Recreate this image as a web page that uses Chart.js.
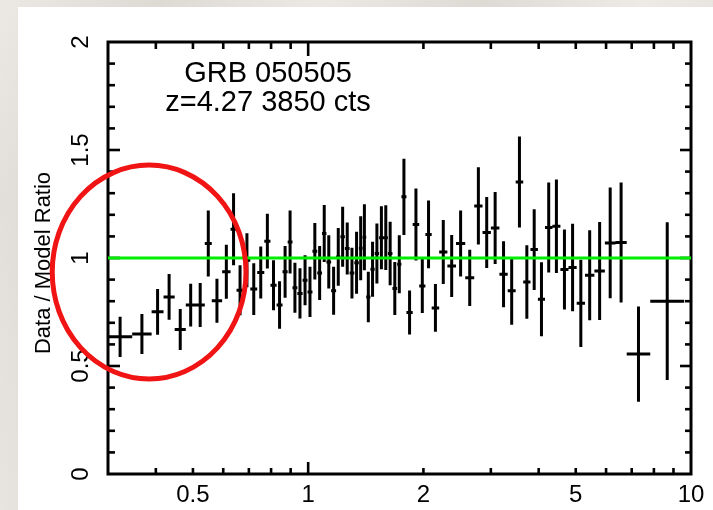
<!DOCTYPE html>
<html>
<head>
<meta charset="utf-8">
<script src="https://cdn.jsdelivr.net/npm/chart.js@4/dist/chart.umd.min.js"></script>
<style>
  html, body { margin: 0; padding: 0; }
  body {
    width: 713px; height: 510px; overflow: hidden; position: relative;
    background-color: #e3ded7;
    background-image:
      linear-gradient(100deg, rgba(255,255,255,0.3) 0%, rgba(0,0,0,0.03) 20%, rgba(255,255,255,0.25) 40%, rgba(0,0,0,0.04) 60%, rgba(255,255,255,0.25) 80%, rgba(0,0,0,0.03) 100%),
      linear-gradient(10deg, rgba(255,255,255,0.2) 0%, rgba(0,0,0,0.03) 50%, rgba(255,255,255,0.2) 100%);
  }
  #panel { position: absolute; left: 18px; top: 7px; width: 695px; height: 503px; background: #ffffff; }
  #c { position: absolute; left: 0; top: 0; }
</style>
</head>
<body>
<div id="panel"></div>
<canvas id="c" width="713" height="510"></canvas>
<script>
// ---- Data (energy bins in keV, data/model ratio) ----
const binEdges = [
  0.300,0.347,0.390,0.419,0.448,0.479,0.508,0.537,0.560,0.596,
  0.627,0.650,0.678,0.706,0.736,0.768,0.797,0.827,0.857,0.884,
  0.910,0.937,0.967,0.996,1.026,1.056,1.087,1.116,1.148,1.183,
  1.214,1.247,1.283,1.320,1.356,1.387,1.418,1.454,1.492,1.532,
  1.575,1.615,1.660,1.708,1.752,1.806,1.875,1.950,2.024,2.102,
  2.199,2.310,2.433,2.572,2.715,2.854,3.001,3.159,3.320,3.484,
  3.645,3.808,3.982,4.156,4.345,4.559,4.786,5.028,5.285,5.593,
  5.957,6.350,6.793,7.826,9.600
];
const ratio = [
  0.635,0.648,0.751,0.820,0.669,0.782,0.782,1.067,0.802,0.936,
  1.133,0.851,0.990,0.856,0.933,1.078,0.874,0.782,0.936,1.074,
  0.862,0.836,0.897,0.843,1.031,0.931,1.113,0.982,0.848,1.005,
  1.098,1.044,0.930,0.978,1.045,1.096,0.819,0.948,1.021,1.094,
  1.094,1.021,0.859,0.971,1.283,0.748,1.155,0.870,1.109,0.769,
  1.028,0.963,1.067,0.908,1.241,1.118,1.139,0.925,0.848,1.352,
  0.889,1.039,0.809,1.141,1.147,0.947,0.956,0.790,0.920,0.940,
  1.070,1.072,0.555,0.800
];
const ratioErr = [
  0.093,0.093,0.106,0.106,0.095,0.099,0.102,0.153,0.102,0.125,
  0.167,0.116,0.125,0.120,0.120,0.127,0.116,0.110,0.120,0.146,
  0.116,0.116,0.116,0.116,0.131,0.125,0.132,0.123,0.111,0.134,
  0.139,0.120,0.118,0.143,0.148,0.153,0.117,0.127,0.139,0.146,
  0.150,0.147,0.123,0.134,0.176,0.102,0.167,0.125,0.157,0.111,
  0.148,0.143,0.153,0.130,0.179,0.164,0.167,0.153,0.157,0.211,
  0.170,0.187,0.171,0.208,0.217,0.185,0.202,0.202,0.208,0.227,
  0.256,0.278,0.220,0.365
];
const modelLine = [1, 1];
const xRange = [0.3, 10];
const yRange = [0, 2];
const xTickLabels = ['0.5', '1', '2', '5', '10'];
const xMajorTicks = [1];
const xMinorTicks = [0.4,0.5,0.6,0.7,0.8,0.9,2,3,4,5,6,7,8,9];
const yTickLabels = ['0', '0.5', '1', '1.5', '2'];
const yMajorTicks = [0.5, 1, 1.5];
const yMinorTicks = [0.1,0.2,0.3,0.4,0.6,0.7,0.8,0.9,1.1,1.2,1.3,1.4,1.6,1.7,1.8,1.9];
const titleLines = ['GRB 050505', 'z=4.27 3850 cts'];
const yAxisTitle = 'Data / Model Ratio';
// annotation ellipse (data units): x extent, y extent
const circleX = [0.2145, 0.688];
const circleY = [0.44, 1.43];

// ---- Build line segments for the error crosses ----
const vSeg = [], hSeg = [];
ratio.forEach((r, i) => {
  const lo = binEdges[i], hi = binEdges[i + 1];
  const c = Math.sqrt(lo * hi);
  const e = ratioErr[i];
  vSeg.push({x: c, y: r - e}, {x: c, y: r + e}, {x: c, y: null});
  hSeg.push({x: lo, y: r}, {x: hi, y: r}, {x: hi, y: null});
});

const FONT = '"Liberation Sans", Arial, Helvetica, sans-serif';

const decor = {
  id: 'decor',
  beforeDatasetsDraw(chart) {
    const {ctx, chartArea: a, scales: {x, y}} = chart;
    ctx.save();
    ctx.strokeStyle = '#000';
    ctx.lineWidth = 3;
    ctx.lineCap = 'butt';
    ctx.strokeRect(a.left, a.top, a.right - a.left, a.bottom - a.top);
    const seg = (x1, y1, x2, y2) => { ctx.beginPath(); ctx.moveTo(x1, y1); ctx.lineTo(x2, y2); ctx.stroke(); };
    ctx.lineWidth = 2.6;
    xMinorTicks.forEach(v => { const p = x.getPixelForValue(v); seg(p, a.bottom, p, a.bottom - 6); seg(p, a.top, p, a.top + 7); });
    xMajorTicks.forEach(v => { const p = x.getPixelForValue(v); seg(p, a.bottom, p, a.bottom - 12); seg(p, a.top, p, a.top + 14); });
    yMinorTicks.forEach(v => { const p = y.getPixelForValue(v); seg(a.left, p, a.left + 7, p); seg(a.right, p, a.right - 6, p); });
    yMajorTicks.forEach(v => { const p = y.getPixelForValue(v); seg(a.left, p, a.left + 12, p); seg(a.right, p, a.right - 11, p); });
    ctx.restore();
  },
  afterDraw(chart) {
    const {ctx, scales: {x, y}} = chart;
    ctx.save();
    ctx.fillStyle = '#000';
    // x tick labels
    ctx.font = '24px ' + FONT;
    ctx.textAlign = 'center';
    ctx.textBaseline = 'alphabetic';
    xTickLabels.forEach(t => { const p = x.getPixelForValue(parseFloat(t)); ctx.fillText(t, p, 502); });
    // y tick labels (rotated)
    yTickLabels.forEach(t => {
      const p = y.getPixelForValue(parseFloat(t));
      ctx.save(); ctx.translate(88, p); ctx.rotate(-Math.PI / 2); ctx.fillText(t, 0, 0); ctx.restore();
    });
    // y axis title
    ctx.font = '22px ' + FONT;
    ctx.save(); ctx.translate(50, 263); ctx.rotate(-Math.PI / 2); ctx.fillText(yAxisTitle, 0, 0); ctx.restore();
    // in-plot title
    ctx.font = '29px ' + FONT;
    ctx.fillText(titleLines[0], 268, 82);
    ctx.fillText(titleLines[1], 268, 111);

    // red annotation ellipse
    const x1 = x.getPixelForValue(circleX[0]), x2 = x.getPixelForValue(circleX[1]);
    const y1 = y.getPixelForValue(circleY[1]), y2 = y.getPixelForValue(circleY[0]);
    ctx.strokeStyle = '#f01414';
    ctx.lineWidth = 5;
    ctx.beginPath();
    ctx.ellipse((x1 + x2) / 2, (y1 + y2) / 2, (x2 - x1) / 2, (y2 - y1) / 2, 0, 0, Math.PI * 2);
    ctx.stroke();
    ctx.restore();
  }
};

new Chart(document.getElementById('c'), {
  type: 'scatter',
  data: {
    datasets: [
      { data: [{x: xRange[0], y: modelLine[0]}, {x: xRange[1], y: modelLine[1]}],
        showLine: true, borderColor: '#00ee00', borderWidth: 3, pointRadius: 0 },
      { data: vSeg, showLine: true, spanGaps: false, borderColor: '#000', borderWidth: 3, pointRadius: 0 },
      { data: hSeg, showLine: true, spanGaps: false, borderColor: '#000', borderWidth: 3, pointRadius: 0 }
    ]
  },
  options: {
    responsive: false,
    animation: false,
    devicePixelRatio: 1,
    events: [],
    layout: { padding: { left: 108, right: 22, top: 42, bottom: 36 } },
    plugins: { legend: { display: false }, tooltip: { enabled: false } },
    scales: {
      x: { type: 'logarithmic', min: xRange[0], max: xRange[1], display: false },
      y: { type: 'linear', min: yRange[0], max: yRange[1], display: false }
    }
  },
  plugins: [decor]
});
</script>
</body>
</html>
